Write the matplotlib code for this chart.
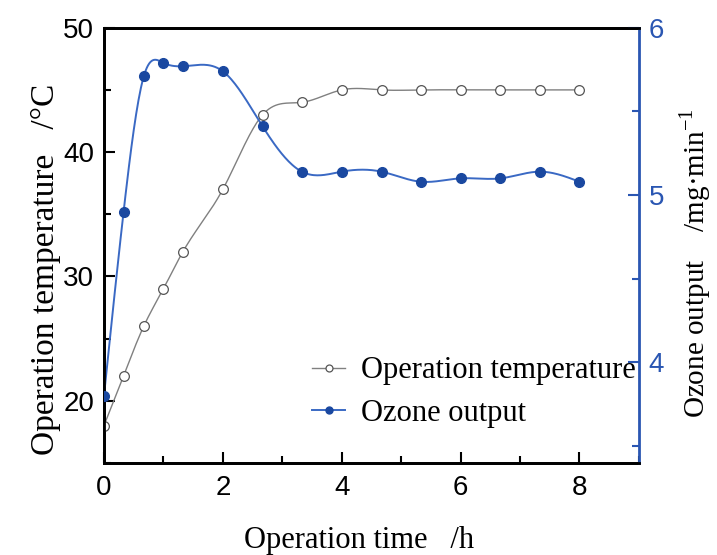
import numpy as np
import matplotlib.pyplot as plt
from matplotlib.ticker import MultipleLocator

# ---- data ----
time_h = [0, 0.33, 0.67, 1.0, 1.33, 2.0, 2.67, 3.33, 4.0, 4.67, 5.33, 6.0, 6.67, 7.33, 8.0]
temperature = [18, 22, 26, 29, 32, 37, 43, 44, 45, 45, 45, 45, 45, 45, 45]
ozone = [3.8, 4.9, 5.71, 5.79, 5.77, 5.74, 5.41, 5.14, 5.14, 5.14, 5.08, 5.10, 5.10, 5.14, 5.08]

BLUE_MK = "#1a48a0"
BLUE_LN = "#3a69c4"
BLUE_AX = "#2a56b2"
SERIF = ["Liberation Serif", "DejaVu Serif"]
SANS = ["Liberation Sans", "DejaVu Sans"]


def spline(x, y, n=400):
    # natural cubic spline through the points, only for the drawn line
    x = np.asarray(x, float)
    y = np.asarray(y, float)
    k = len(x)
    h = np.diff(x)
    A = np.zeros((k, k))
    r = np.zeros(k)
    A[0, 0] = A[-1, -1] = 1
    for i in range(1, k - 1):
        A[i, i - 1] = h[i - 1]
        A[i, i] = 2 * (h[i - 1] + h[i])
        A[i, i + 1] = h[i]
        r[i] = 6 * ((y[i + 1] - y[i]) / h[i] - (y[i] - y[i - 1]) / h[i - 1])
    M = np.linalg.solve(A, r)
    xs = np.linspace(x[0], x[-1], n)
    j = np.clip(np.searchsorted(x, xs) - 1, 0, k - 2)
    a = x[j + 1] - xs
    b = xs - x[j]
    hj = h[j]
    ys = (M[j] * a**3 + M[j + 1] * b**3) / (6 * hj) \
        + (y[j] / hj - M[j] * hj / 6) * a + (y[j + 1] / hj - M[j + 1] * hj / 6) * b
    return xs, ys


fig = plt.figure(figsize=(7.17, 5.55), dpi=100)
ax = fig.add_axes([0.145, 0.166, 0.746, 0.784])
ax2 = ax.twinx()

# ---- temperature (left axis) ----
xs, ys = spline(time_h, temperature)
ax.plot(xs, ys, color="#808080", lw=1.0, zorder=2)
ax.plot(time_h, temperature, linestyle="none", marker="o", ms=7,
        mfc="white", mec="#555555", mew=0.9, zorder=3)

# ---- ozone (right axis) ----
xs, ys = spline(time_h, ozone)
ax2.plot(xs, ys, color=BLUE_LN, lw=1.4, zorder=2)
ax2.plot(time_h, ozone, linestyle="none", marker="o", ms=7,
         mfc=BLUE_MK, mec=BLUE_MK, zorder=3)

ax.set_xlim(0, 9)
ax.set_ylim(15, 50)
ax2.set_ylim(3.4, 6)

ax.xaxis.set_major_locator(MultipleLocator(2))
ax.xaxis.set_minor_locator(MultipleLocator(1))
ax.yaxis.set_major_locator(MultipleLocator(10))
ax.yaxis.set_minor_locator(MultipleLocator(5))
ax2.yaxis.set_major_locator(MultipleLocator(1))
ax2.yaxis.set_minor_locator(MultipleLocator(0.5))

ax.tick_params(which="both", direction="in", width=1.5, labelsize=20, pad=7)
ax.tick_params(which="major", length=8)
ax.tick_params(which="minor", length=5)
ax.tick_params(axis="x", which="major", pad=9)
ax.tick_params(top=False, right=False, which="both")
ax2.tick_params(which="both", direction="in", width=1.5, labelsize=20,
                color=BLUE_AX, labelcolor=BLUE_AX, pad=7)
ax2.tick_params(which="major", length=8)
ax2.tick_params(which="minor", length=5)

for lab in ax.get_xticklabels() + ax.get_yticklabels() + ax2.get_yticklabels():
    lab.set_family(SANS)

for side in ["left", "bottom", "top"]:
    ax.spines[side].set_linewidth(2)
    ax2.spines[side].set_linewidth(2)
ax2.spines["right"].set_linewidth(2)
ax2.spines["right"].set_color(BLUE_AX)
ax.spines["right"].set_visible(False)

ax.set_xlabel("Operation time   /h", fontsize=22, family=SERIF)
ax.xaxis.set_label_coords(0.477, -0.145)
ax.set_ylabel("Operation temperature   /\u00b0C", fontsize=24, family=SERIF)
ax.yaxis.set_label_coords(-0.08, 0.445)
ax2.set_ylabel("Ozone output    /mg\u00b7min$^{\\mathregular{-1}}$", fontsize=21,
               family=SERIF)
ax2.yaxis.set_label_coords(1.072, 0.46)

# legend handles
h1, = ax.plot([], [], color="#808080", lw=1.0, marker="o", ms=5,
              mfc="white", mec="#555555", mew=0.9)
h2, = ax.plot([], [], color=BLUE_LN, lw=1.4, marker="o", ms=5,
              mfc=BLUE_MK, mec=BLUE_MK)
ax2.legend([h1, h2], ["Operation temperature", "Ozone output"],
           loc="lower left", bbox_to_anchor=(0.367, 0.052), frameon=False,
           prop={"family": SERIF, "size": 22}, handlelength=1.05,
           handletextpad=0.55, labelspacing=0.45, borderaxespad=0)

fig.savefig("out.png", dpi=100)
